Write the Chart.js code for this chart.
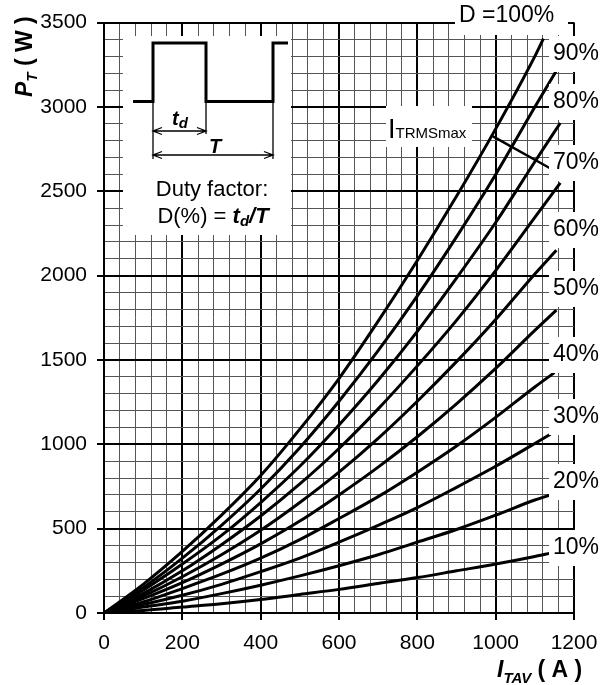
<!DOCTYPE html>
<html lang="en">
<head>
    <meta charset="UTF-8">
    <title>PT vs ITAV</title>
    <script src="https://cdn.jsdelivr.net/npm/chart.js@4.4.1/dist/chart.umd.min.js"></script>
    <style>
        body { margin: 0; background: #fff; }
        canvas { display: block; }
    </style>
</head>
<body>
    <canvas id="lossChart" width="615" height="685"></canvas>

    <script>
        // Data (I_TAV in A, P_T in W)
        const dutyLabels = ['100%', '90%', '80%', '70%', '60%', '50%', '40%', '30%', '20%', '10%'];
        const current = [0, 100, 200, 300, 400, 500, 600, 700, 800, 900, 1000, 1100];
        const endCurrent = [1122, 1155, 1165, 1165, 1155, 1155, 1150, 1140, 1140, 1140];
        const pD100 = [0, 170, 365, 580, 815, 1090, 1390, 1730, 2090, 2470, 2870, 3300, 3405];
        const pD90 = [0, 150, 325, 520, 735, 980, 1255, 1555, 1880, 2230, 2600, 3000, 3215];
        const pD80 = [0, 135, 290, 460, 655, 870, 1115, 1380, 1670, 1985, 2315, 2675, 2905];
        const pD70 = [0, 115, 250, 405, 575, 765, 975, 1210, 1465, 1735, 2030, 2345, 2550];
        const pD60 = [0, 100, 215, 345, 490, 655, 835, 1035, 1255, 1490, 1740, 2010, 2150];
        const pD50 = [0, 85, 180, 290, 410, 545, 700, 865, 1045, 1240, 1450, 1675, 1795];
        const pD40 = [0, 65, 145, 230, 325, 435, 560, 690, 835, 990, 1160, 1340, 1425];
        const pD30 = [0, 50, 105, 170, 245, 325, 420, 520, 625, 745, 870, 1005, 1060];
        const pD20 = [0, 35, 70, 115, 165, 220, 280, 345, 420, 495, 580, 670, 700];
        const pD10 = [0, 15, 35, 55, 80, 110, 140, 175, 210, 250, 290, 335, 355];
        const powers = [pD100, pD90, pD80, pD70, pD60, pD50, pD40, pD30, pD20, pD10];

        // I_TRMSmax limit line
        const trmsCurrent = [993, 1140];
        const trmsPower = [2825, 2635];

        const FONT = "'Liberation Sans', Arial, sans-serif";

        const datasets = powers.map((p, i) => ({
            label: 'D = ' + dutyLabels[i],
            data: current.concat([endCurrent[i]]).map((c, k) => ({ x: c, y: p[k] })),
            borderColor: '#000',
            borderWidth: 3,
            pointRadius: 0,
            cubicInterpolationMode: 'monotone',
            fill: false
        }));
        datasets.push({
            label: 'ITRMSmax',
            data: trmsCurrent.map((c, k) => ({ x: c, y: trmsPower[k] })),
            borderColor: '#000',
            borderWidth: 2.5,
            pointRadius: 0,
            fill: false
        });

        // draws a list of text runs one after another, returns end x
        function drawRuns(ctx, x, y, runs) {
            runs.forEach(r => {
                ctx.font = r.font;
                ctx.fillText(r.t, x, y + (r.dy || 0));
                x += ctx.measureText(r.t).width;
            });
            return x;
        }
        function runsWidth(ctx, runs) {
            let w = 0;
            runs.forEach(r => { ctx.font = r.font; w += ctx.measureText(r.t).width; });
            return w;
        }
        function arrow(ctx, x1, x2, y) {
            ctx.beginPath();
            ctx.moveTo(x1, y); ctx.lineTo(x2, y);
            ctx.moveTo(x1 + 9, y - 3.5); ctx.lineTo(x1, y); ctx.lineTo(x1 + 9, y + 3.5);
            ctx.moveTo(x2 - 9, y - 3.5); ctx.lineTo(x2, y); ctx.lineTo(x2 - 9, y + 3.5);
            ctx.stroke();
        }

        const labelCenters = [54, 102, 163, 230, 289, 355, 417, 482, 548];

        const overlay = {
            id: 'overlay',
            afterDatasetsDraw(chart) {
                const ctx = chart.ctx;
                ctx.save();
                ctx.fillStyle = '#fff';
                ctx.strokeStyle = '#000';
                ctx.textBaseline = 'alphabetic';

                // inset box with the pulse sketch
                ctx.fillRect(123, 36, 168, 199);
                ctx.lineWidth = 3;
                ctx.beginPath();
                ctx.moveTo(133, 101.5); ctx.lineTo(153, 101.5); ctx.lineTo(153, 43);
                ctx.lineTo(206, 43); ctx.lineTo(206, 101.5); ctx.lineTo(273, 101.5);
                ctx.lineTo(273, 43); ctx.lineTo(288, 43);
                ctx.stroke();
                ctx.lineWidth = 1.3;
                ctx.beginPath();
                ctx.moveTo(153, 101); ctx.lineTo(153, 159);
                ctx.moveTo(206, 101); ctx.lineTo(206, 134);
                ctx.moveTo(273, 101); ctx.lineTo(273, 159);
                ctx.stroke();
                arrow(ctx, 153, 206, 131);
                arrow(ctx, 153, 273, 155);

                ctx.fillStyle = '#000';
                drawRuns(ctx, 172, 125, [
                    { t: 't', font: 'italic bold 20px ' + FONT },
                    { t: 'd', font: 'italic bold 15px ' + FONT, dy: 3 }
                ]);
                ctx.font = 'italic bold 20px ' + FONT;
                ctx.fillText('T', 209, 153);

                ctx.textAlign = 'center';
                ctx.font = '22px ' + FONT;
                ctx.fillText('Duty factor:', 212, 196);
                ctx.textAlign = 'left';
                const formula = [
                    { t: 'D(%) = ', font: '22px ' + FONT },
                    { t: 't', font: 'italic bold 22px ' + FONT },
                    { t: 'd', font: 'italic bold 15px ' + FONT, dy: 3 },
                    { t: '/T', font: 'italic bold 22px ' + FONT }
                ];
                drawRuns(ctx, 213 - runsWidth(ctx, formula) / 2, 223, formula);

                // duty labels on the right
                ctx.fillStyle = '#fff';
                ctx.fillRect(455, 0, 113, 35);
                labelCenters.forEach(c => ctx.fillRect(549, c - 18, 66, 36));
                ctx.fillStyle = '#000';
                ctx.textBaseline = 'middle';
                ctx.font = '23px ' + FONT;
                ctx.fillText('D =' + dutyLabels[0], 459, 16);
                labelCenters.forEach((c, i) => ctx.fillText(dutyLabels[i + 1], 553, c));

                // I_TRMSmax label
                ctx.fillStyle = '#fff';
                ctx.fillRect(386, 106, 86, 41);
                ctx.fillStyle = '#000';
                ctx.textBaseline = 'alphabetic';
                drawRuns(ctx, 388, 138, [
                    { t: 'I', font: '27px ' + FONT },
                    { t: 'TRMSmax', font: '15px ' + FONT }
                ]);

                // axis titles
                drawRuns(ctx, 497, 677, [
                    { t: 'I', font: 'italic bold 23px ' + FONT },
                    { t: 'TAV', font: 'italic bold 15px ' + FONT, dy: 6 },
                    { t: ' ( A )', font: 'bold 23px ' + FONT }
                ]);
                ctx.translate(32, 97);
                ctx.rotate(-Math.PI / 2);
                drawRuns(ctx, 0, 0, [
                    { t: 'P', font: 'italic bold 23px ' + FONT },
                    { t: 'T', font: 'italic bold 15px ' + FONT, dy: 5 },
                    { t: ' ( W )', font: 'bold 23px ' + FONT }
                ]);
                ctx.restore();
            }
        };

        const isMajor = (ctx, step) => ctx.tick && Math.round(ctx.tick.value) % step === 0;

        new Chart(document.getElementById('lossChart'), {
            type: 'line',
            data: { datasets: datasets },
            options: {
                responsive: false,
                animation: false,
                devicePixelRatio: 1,
                layout: { padding: { top: 21, right: 41, left: 0, bottom: 0 } },
                plugins: {
                    legend: { display: false },
                    tooltip: { enabled: false }
                },
                scales: {
                    x: {
                        type: 'linear',
                        min: 0,
                        max: 1200,
                        afterFit: s => { s.height = 72; },
                        border: { display: true, color: '#000', width: 2 },
                        grid: {
                            color: c => isMajor(c, 200) ? '#000' : '#555',
                            lineWidth: c => isMajor(c, 200) ? 2 : 1,
                            tickColor: c => isMajor(c, 200) ? '#000' : 'rgba(0,0,0,0)',
                            tickLength: 7,
                            tickWidth: 2
                        },
                        ticks: {
                            stepSize: 40,
                            autoSkip: false,
                            maxTicksLimit: 100,
                            maxRotation: 0,
                            padding: 11,
                            color: '#000',
                            font: { family: FONT, size: 21 },
                            callback: v => (Math.round(v) % 200 === 0 ? v : '')
                        }
                    },
                    y: {
                        min: 0,
                        max: 3500,
                        afterFit: s => { s.width = 104; },
                        border: { display: true, color: '#000', width: 2 },
                        grid: {
                            color: c => isMajor(c, 500) ? '#000' : '#555',
                            lineWidth: c => isMajor(c, 500) ? 2 : 1,
                            tickColor: c => isMajor(c, 500) ? '#000' : 'rgba(0,0,0,0)',
                            tickLength: 7,
                            tickWidth: 2
                        },
                        ticks: {
                            stepSize: 100,
                            autoSkip: false,
                            maxTicksLimit: 100,
                            padding: 10,
                            color: '#000',
                            font: { family: FONT, size: 21 },
                            callback: v => (Math.round(v) % 500 === 0 ? v : '')
                        }
                    }
                }
            },
            plugins: [overlay]
        });
    </script>
</body>
</html>
